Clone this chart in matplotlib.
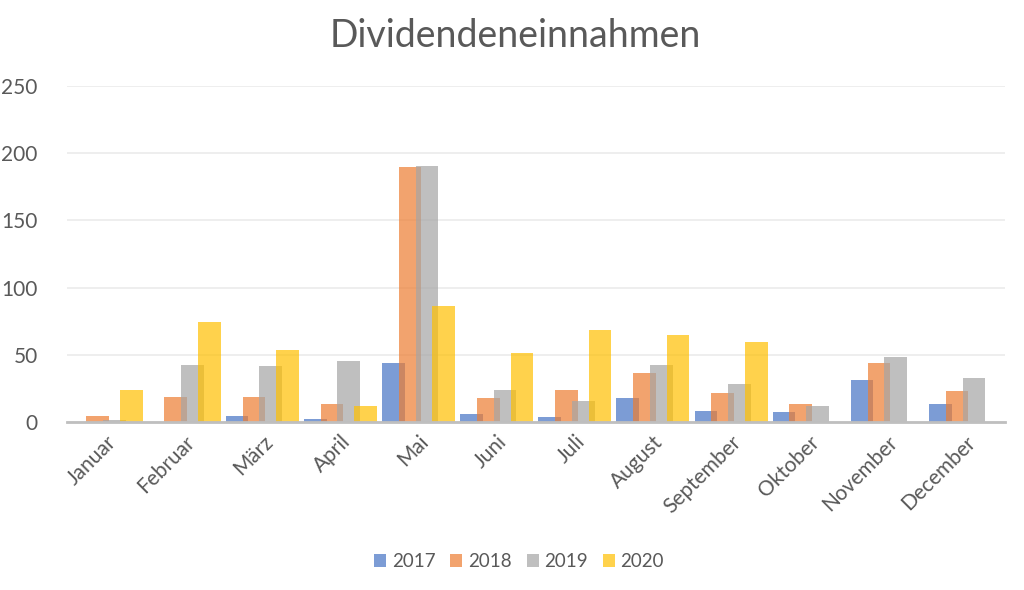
import matplotlib
matplotlib.use("Agg")
import matplotlib.pyplot as plt
import numpy as np
from matplotlib.patches import Patch

months = ["Januar", "Februar", "März", "April", "Mai", "Juni", "Juli",
          "August", "September", "Oktober", "November", "December"]
years = ["2017", "2018", "2019", "2020"]
v2017 = [0, 0, 4.5, 2.5, 44, 6, 3.5, 18, 8.4, 7.2, 31.2, 13.4]
v2018 = [4.5, 18.6, 18.6, 13.4, 189.7, 18, 24, 36.2, 21.3, 13.2, 43.7, 22.8]
v2019 = [1.5, 42.4, 41.5, 45.4, 190.5, 23.5, 16, 42.2, 28, 11.9, 48.1, 32.5]
v2020 = [23.8, 74.4, 53.6, 11.9, 86.5, 51.6, 68.5, 65, 59.5, 0, 0, 0]
series = [v2017, v2018, v2019, v2020]
colors = ["#4472C4", "#ED7D31", "#A5A5A5", "#FFC000"]

plt.rcParams['font.family'] = ['Lato', 'DejaVu Sans']
fig = plt.figure(figsize=(10.24, 5.9), dpi=100)
ax = fig.add_axes([0.0654, 0.2847, 0.9156, 0.5693])

x = np.arange(len(months))
step = 0.215
width = 0.29
for i, (vals, c, yr) in enumerate(zip(series, colors, years)):
    ax.bar(x + (i - 1.5) * step, vals, width=width, color=c, alpha=0.7,
           linewidth=0, label=yr, zorder=3)

ax.set_xlim(-0.5, 11.5)
ax.set_ylim(0, 250)
ax.set_yticks([0, 50, 100, 150, 200, 250])
ax.grid(axis='y', color='#EBEBEB', linewidth=1.2, zorder=0)
for s in ['top', 'right', 'left']:
    ax.spines[s].set_visible(False)
ax.spines['bottom'].set_color('#BFBFBF')
ax.spines['bottom'].set_linewidth(2)
ax.spines['bottom'].set_zorder(4)
ax.tick_params(axis='both', length=0, colors='#595959', labelsize=15)
ax.tick_params(axis='y', pad=21)
ax.set_xticks(x)
ax.set_xticklabels(months, rotation=45, ha='right', rotation_mode='anchor')
ax.tick_params(axis='x', pad=7)

fig.suptitle("Dividendeneinnahmen", x=0.503, y=0.97, fontsize=27, color='#595959')

handles = [Patch(facecolor=c, alpha=0.7, edgecolor='none') for c in colors]
fig.legend(handles, years, loc='center', bbox_to_anchor=(0.507, 0.048), ncol=4,
           frameon=False, fontsize=13.5, labelcolor='#595959', handlelength=0.64,
           handleheight=0.64, handletextpad=0.3, columnspacing=0.8)

fig.savefig("out.png", dpi=100)
